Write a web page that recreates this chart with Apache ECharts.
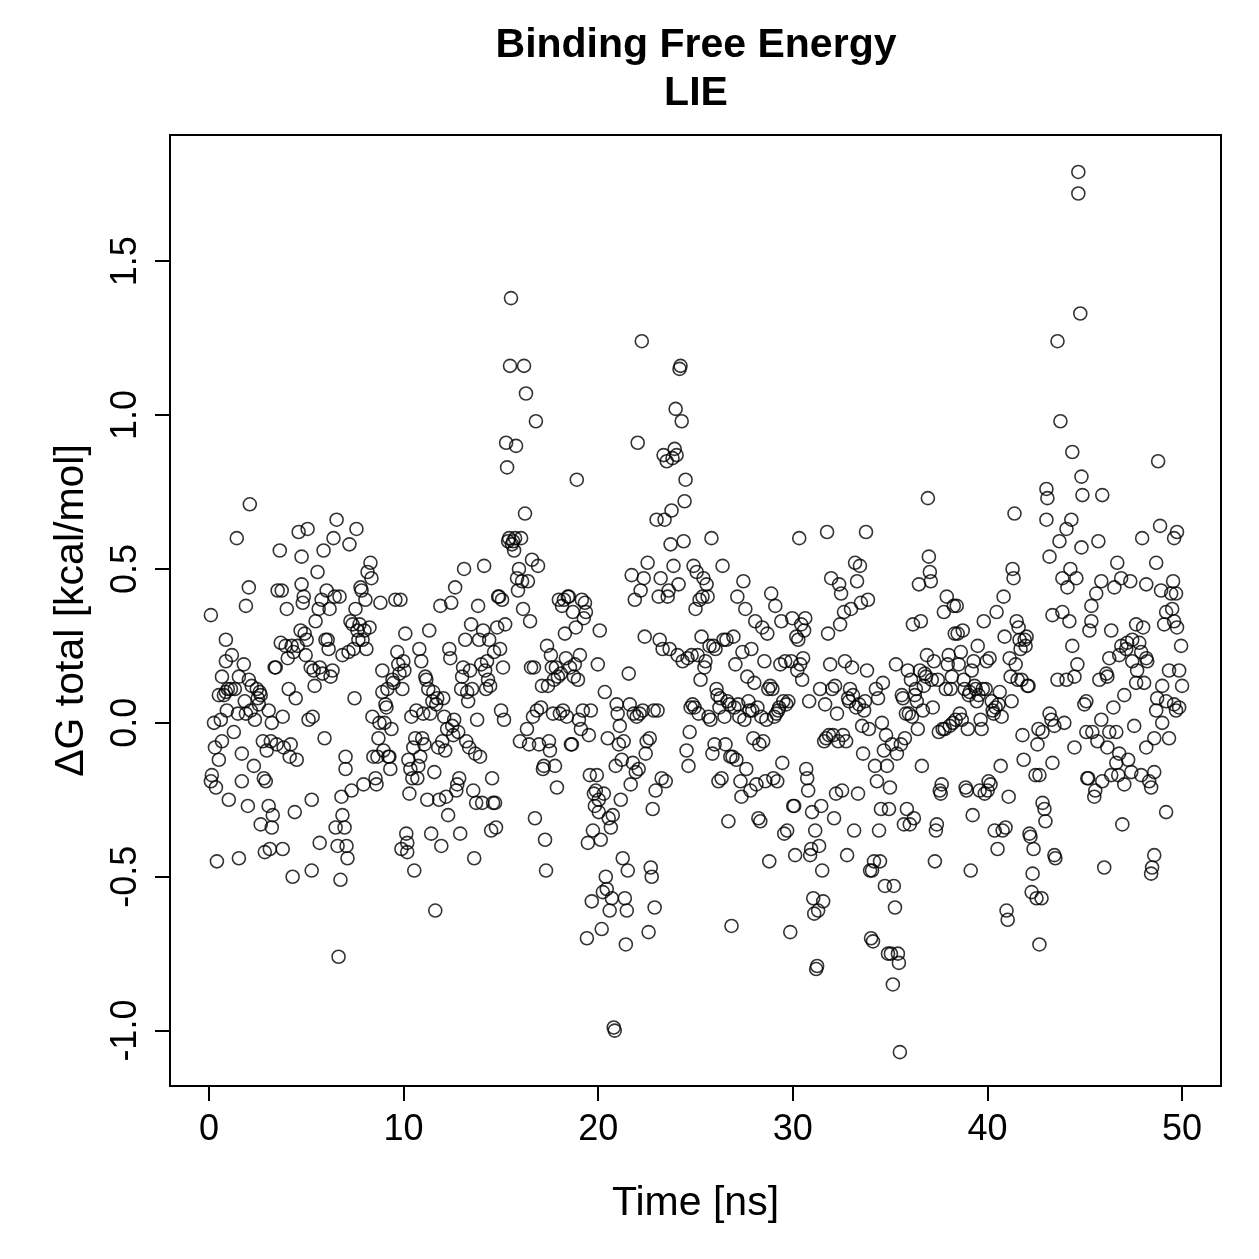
<!DOCTYPE html>
<html>
<head>
<meta charset="utf-8">
<title>Binding Free Energy - LIE</title>
<script src="https://cdn.jsdelivr.net/npm/echarts@6/dist/echarts.min.js"></script>
<style>
    html, body { margin: 0; padding: 0; background: #fff; }
    #main { width: 1259px; height: 1259px; }
</style>
</head>
<body>
<div id="main"></div>
<script>
// tick labels
const xTicks = [0, 10, 20, 30, 40, 50];
const yTicks = [-1.0, -0.5, 0.0, 0.5, 1.0, 1.5];

// [time (ns), dG total (kcal/mol)], in blocks of ~10 ns
const lie0to10 = [
    [0.10,0.35],[0.15,-0.17],[0.10,-0.19],[0.26,0.00],[0.31,-0.08],[0.36,-0.21],[0.41,-0.45],[0.51,0.09],[0.51,-0.12],[0.61,0.01],
    [0.67,-0.06],[0.67,0.15],[0.77,0.09],[0.87,0.27],[0.87,0.20],[0.87,0.10],[0.92,0.04],[0.97,0.11],[1.02,-0.25],[1.13,0.11],
    [1.18,0.22],[1.28,-0.03],[1.33,0.11],[1.43,0.60],[1.49,0.03],[1.54,-0.44],[1.54,0.15],[1.69,-0.19],[1.69,-0.10],[1.79,0.19],
    [1.84,0.07],[1.90,0.38],[1.90,0.03],[2.00,-0.27],[2.05,0.44],[2.10,0.71],[2.05,0.14],[2.15,0.04],[2.20,0.12],[2.31,-0.14],
    [2.36,0.01],[2.46,0.11],[2.51,0.08],[2.56,0.06],[2.61,0.10],[2.66,0.09],[2.66,-0.33],[2.77,-0.06],[2.82,-0.18],[2.87,-0.42],
    [2.92,-0.19],[2.97,-0.09],[3.07,0.04],[3.07,-0.27],[3.13,-0.41],[3.18,-0.06],[3.23,0.00],[3.23,-0.34],[3.28,-0.30],[3.38,0.18],
    [3.43,0.18],[3.48,-0.07],[3.53,0.43],[3.64,0.56],[3.69,0.26],[3.74,0.43],[3.79,0.02],[3.79,-0.41],[3.84,-0.08],[3.94,0.25],
    [4.00,0.37],[4.05,0.21],[4.10,0.11],[4.15,-0.11],[4.20,-0.07],[4.25,0.25],[4.30,-0.50],[4.35,0.23],[4.41,-0.29],[4.46,0.08],
    [4.51,-0.12],[4.56,0.25],[4.61,0.62],[4.71,0.30],[4.76,0.54],[4.76,0.45],[4.82,0.39],[4.87,0.41],[4.92,0.29],[4.97,0.22],
    [5.02,0.27],[5.07,0.63],[5.12,0.01],[5.23,0.18],[5.28,-0.25],[5.28,-0.48],[5.33,0.02],[5.38,0.17],[5.43,0.12],[5.48,0.33],
    [5.58,0.49],[5.64,0.37],[5.69,0.18],[5.69,-0.39],[5.79,0.40],[5.84,0.16],[5.89,0.56],[5.94,-0.05],[5.99,0.27],[6.05,0.43],
    [6.10,0.27],[6.15,0.24],[6.20,0.37],[6.25,0.15],[6.35,0.17],[6.40,0.60],[6.46,0.41],[6.51,-0.34],[6.56,0.66],[6.61,-0.40],
    [6.66,-0.76],[6.71,0.41],[6.76,-0.51],[6.81,-0.24],[6.86,0.22],[6.86,-0.30],[6.97,-0.34],[7.02,-0.11],[7.02,-0.15],[7.07,-0.40],
    [7.12,-0.44],[7.17,0.23],[7.22,0.58],[7.27,0.33],[7.33,-0.22],[7.38,0.32],[7.43,0.24],[7.48,0.08],[7.53,0.37],[7.58,0.63],
    [7.63,0.30],[7.68,0.27],[7.74,0.32],[7.79,0.44],[7.84,0.43],[7.89,0.27],[7.94,-0.20],[7.99,0.30],[8.04,0.40],[8.09,0.24],
    [8.15,0.49],[8.25,0.31],[8.30,0.52],[8.35,0.47],[8.40,0.02],[8.45,-0.11],[8.56,-0.18],[8.61,-0.20],[8.66,-0.11],[8.71,-0.05],
    [8.76,0.00],[8.81,0.39],[8.91,0.10],[8.91,0.17],[8.97,-0.09],[9.02,0.00],[9.07,0.06],[9.12,0.05],[9.17,0.11],[9.22,-0.11],
    [9.27,-0.11],[9.32,-0.15],[9.38,-0.02],[9.43,0.14],[9.48,0.13],[9.58,0.40],[9.68,0.23],[9.73,0.19],[9.79,0.16],[9.84,0.40],
    [9.89,-0.41],[9.94,0.11],[9.99,0.20]
];
const lie10to20 = [
    [10.04,0.17],[10.09,0.29],[10.14,-0.36],[10.19,-0.39],[10.19,-0.42],[10.25,-0.12],[10.30,-0.23],[10.35,-0.15],[10.40,0.02],[10.45,-0.18],
    [10.50,-0.08],[10.55,-0.48],[10.60,-0.05],[10.66,0.04],[10.71,-0.18],[10.76,-0.14],[10.81,0.24],
    [10.86,-0.11],[10.91,0.20],[10.96,-0.05],[11.01,0.03],[11.07,-0.07],[11.12,0.15],[11.17,0.14],[11.22,-0.25],[11.27,0.11],[11.32,0.30],
    [11.37,0.03],[11.42,-0.36],[11.48,0.07],[11.53,0.10],[11.58,-0.16],[11.63,-0.61],[11.68,0.06],[11.73,0.08],[11.78,-0.08],[11.83,-0.25],
    [11.89,0.38],[11.94,-0.40],[11.99,-0.06],[12.04,0.08],[12.09,0.02],[12.14,-0.09],[12.19,-0.24],[12.24,-0.02],[12.29,-0.30],[12.35,0.24],
    [12.40,0.21],[12.45,0.39],[12.50,-0.01],[12.55,-0.04],[12.60,0.01],[12.65,0.44],[12.71,-0.22],[12.76,-0.20],[12.81,-0.03],[12.86,-0.18],
    [12.91,-0.36],[12.96,0.11],[13.01,0.15],[13.06,0.18],[13.11,0.50],[13.17,0.27],[13.22,-0.06],[13.27,0.10],[13.32,0.07],[13.37,-0.08],
    [13.42,0.17],[13.47,0.32],[13.52,0.11],[13.58,-0.22],[13.63,-0.44],[13.68,-0.10],[13.73,-0.26],[13.78,0.01],[13.83,0.38],[13.88,0.27],
    [13.93,-0.11],[13.99,0.19],[14.04,-0.26],[14.09,0.30],[14.14,0.51],[14.19,0.17],[14.24,0.11],[14.29,0.20],[14.34,0.14],[14.40,0.27],
    [14.45,0.12],[14.50,-0.35],[14.55,-0.18],[14.60,-0.26],[14.65,0.23],[14.70,-0.26],[14.75,-0.34],[14.81,0.31],[14.86,0.41],[14.91,0.41],
    [14.96,0.24],[15.01,0.04],[15.06,0.40],[15.11,0.18],[15.16,0.01],[15.22,0.32],[15.27,0.91],[15.32,0.83],[15.37,0.59],[15.42,0.60],
    [15.47,1.16],[15.52,1.38],[15.57,0.58],[15.63,0.59],[15.68,0.56],[15.73,0.60],[15.78,0.90],[15.83,0.47],[15.88,0.43],[15.93,0.50],
    [15.98,-0.06],[16.04,0.60],[16.09,0.46],[16.14,0.37],[16.19,1.16],[16.24,0.68],[16.29,1.07],[16.34,-0.02],[16.39,0.46],[16.45,-0.07],
    [16.50,0.33],[16.55,0.18],[16.60,0.53],[16.65,0.02],[16.70,0.18],[16.75,-0.31],[16.80,0.98],[16.85,0.04],[16.91,0.51],[16.96,-0.07],
    [17.06,0.05],[17.11,0.12],[17.16,-0.15],[17.21,-0.14],[17.27,-0.38],[17.32,-0.48],[17.37,0.25],[17.42,0.12],[17.47,-0.06],[17.52,-0.09],
    [17.57,0.22],[17.62,0.18],[17.68,0.03],[17.73,0.14],[17.78,-0.14],[17.83,0.18],[17.88,-0.21],[17.93,0.15],[17.98,0.40],[18.03,0.03],
    [18.08,0.16],[18.14,0.38],[18.19,0.04],[18.24,0.40],[18.29,0.29],[18.34,0.21],[18.39,0.02],[18.44,0.41],[18.49,0.41],[18.55,0.18],
    [18.60,-0.07],[18.65,-0.07],[18.70,0.36],[18.75,0.15],[18.80,0.19],[18.85,0.31],[18.90,0.79],[18.96,0.14],[19.01,0.01],[19.06,0.22],
    [19.11,-0.02],[19.16,0.40],[19.21,0.04],[19.26,0.34],[19.32,0.39],[19.37,0.36],[19.42,-0.70],[19.47,-0.39],[19.52,-0.04],[19.57,-0.17],
    [19.62,0.04],[19.67,-0.58],[19.73,-0.35],[19.78,-0.23],[19.83,-0.27],[19.88,-0.22],[19.93,-0.17],[19.98,0.19]
];
const lie20to30 = [
    [20.03,-0.29],[20.03,-0.25],
    [20.08,0.30],[20.13,-0.38],[20.18,-0.67],[20.24,-0.55],[20.29,-0.23],[20.34,0.10],[20.39,-0.50],[20.44,-0.54],[20.49,-0.05],[20.54,-0.31],
    [20.59,-0.61],[20.65,-0.34],[20.70,-0.57],[20.75,-0.30],[20.80,-0.99],[20.85,-1.00],[20.90,-0.14],[20.95,0.06],[21.00,0.03],[21.06,-0.07],
    [21.11,-0.01],[21.16,-0.25],[21.21,-0.12],[21.26,-0.44],[21.31,-0.06],[21.37,-0.57],[21.42,-0.72],[21.47,-0.61],[21.52,-0.48],[21.57,0.16],
    [21.62,0.06],[21.67,-0.20],[21.72,0.48],[21.78,-0.13],[21.83,0.03],[21.88,0.40],[21.93,-0.16],[21.98,0.02],[22.03,0.91],[22.08,-0.15],
    [22.13,0.03],[22.18,0.43],[22.24,1.24],[22.29,0.04],[22.34,0.47],[22.39,0.28],[22.44,-0.10],[22.49,-0.06],[22.54,0.52],[22.59,-0.68],
    [22.65,-0.05],[22.70,-0.47],[22.75,-0.50],[22.80,-0.28],[22.85,0.04],[22.90,-0.60],[22.95,-0.22],[23.00,0.66],[23.05,0.04],[23.11,0.41],
    [23.16,0.27],[23.21,0.47],[23.26,-0.18],[23.31,0.24],[23.36,0.87],[23.41,0.66],[23.47,-0.19],[23.52,0.85],[23.57,0.41],[23.62,0.43],
    [23.67,0.24],[23.72,0.58],[23.77,0.69],[23.82,0.86],[23.87,0.51],[23.93,0.89],[23.98,1.02],[24.03,0.87],[24.08,0.22],[24.13,0.45],
    [24.18,1.15],[24.23,1.16],[24.29,0.98],[24.34,0.20],[24.39,0.59],[24.44,0.72],[24.49,0.79],[24.54,-0.09],[24.59,0.21],[24.64,-0.14],
    [24.70,-0.03],[24.75,0.05],[24.80,0.22],[24.85,0.06],[24.90,0.51],[24.95,0.05],[25.00,0.37],[25.06,0.49],[25.11,0.22],[25.16,0.03],
    [25.21,0.40],[25.26,0.14],[25.31,0.28],[25.36,0.41],[25.41,0.47],[25.46,0.18],[25.51,0.20],[25.57,0.45],[25.62,0.41],[25.67,0.02],
    [25.72,0.25],[25.77,0.01],[25.82,0.60],[25.87,-0.10],[25.92,0.25],[25.98,-0.07],[26.03,0.24],[26.08,0.11],[26.13,0.09],[26.18,-0.19],
    [26.23,0.05],[26.28,0.08],[26.34,-0.18],[26.39,0.51],[26.44,0.27],[26.49,0.02],[26.54,-0.07],[26.59,0.27],[26.64,0.07],[26.69,-0.32],
    [26.74,0.06],[26.79,-0.11],[26.85,-0.66],[26.90,-0.11],[26.95,0.28],[27.00,0.05],[27.05,0.19],[27.10,-0.12],[27.15,0.41],[27.20,0.06],
    [27.25,0.02],[27.31,-0.19],[27.36,-0.24],[27.41,0.23],[27.46,0.46],[27.51,0.01],[27.56,0.37],[27.61,-0.15],[27.66,0.15],[27.72,0.07],
    [27.77,0.04],[27.82,-0.22],[27.87,0.24],[27.92,0.04],[27.97,-0.05],[28.02,0.13],[28.07,0.33],[28.13,-0.20],[28.18,0.05],[28.23,-0.31],
    [28.28,-0.07],[28.33,-0.32],[28.38,0.02],[28.43,0.31],[28.48,-0.06],[28.54,0.20],[28.59,-0.19],[28.64,0.01],[28.69,0.29],[28.74,0.11],
    [28.79,-0.45],[28.84,0.12],[28.89,0.42],[28.95,0.11],[29.00,-0.18],[29.05,0.02],[29.10,0.38],[29.15,0.03],[29.20,-0.19],[29.25,0.04],
    [29.30,0.05],[29.36,0.19],[29.41,0.33],[29.46,-0.13],[29.51,0.07],[29.56,-0.36],[29.61,0.20],[29.66,0.06],[29.71,-0.35],[29.77,0.07],
    [29.87,-0.68],[29.92,0.20],[29.97,0.34]
];
const lie30to40 = [
    [30.02,-0.27],[30.07,-0.27],[30.12,-0.43],[30.18,0.28],[30.23,0.17],[30.28,0.27],[30.33,0.60],
    [30.38,0.19],[30.43,0.32],[30.48,0.14],[30.53,0.21],[30.58,0.30],[30.64,0.34],[30.69,-0.15],[30.74,-0.18],[30.79,-0.22],[30.84,0.07],
    [30.89,-0.43],[30.94,-0.41],[30.99,-0.29],[31.05,-0.57],[31.10,-0.62],[31.15,-0.35],[31.20,-0.80],[31.25,-0.79],[31.30,-0.61],[31.35,-0.40],
    [31.40,0.11],[31.46,-0.27],[31.51,-0.48],[31.56,-0.58],[31.61,-0.06],[31.66,0.06],[31.71,-0.05],[31.76,0.62],[31.81,0.29],[31.86,-0.04],
    [31.92,0.19],[31.97,0.47],[32.02,0.11],[32.07,-0.04],[32.12,-0.31],[32.17,0.12],[32.22,-0.23],[32.27,0.03],[32.33,-0.06],[32.38,0.45],
    [32.43,0.32],[32.48,0.42],[32.53,-0.22],[32.58,-0.04],[32.63,0.36],[32.68,0.20],[32.74,-0.06],[32.79,-0.43],[32.84,0.08],[32.89,0.07],
    [32.94,0.11],[32.99,0.37],[33.04,0.18],[33.09,0.09],[33.15,-0.35],[33.20,0.52],[33.25,0.05],[33.30,0.46],[33.35,-0.23],[33.40,0.06],
    [33.45,0.51],[33.50,0.39],[33.56,-0.01],[33.61,-0.10],[33.66,0.04],[33.71,0.07],[33.76,0.62],[33.81,0.17],[33.86,0.40],[33.91,-0.02],
    [33.97,-0.48],[34.02,-0.70],[34.07,-0.48],[34.12,-0.71],[34.17,-0.45],[34.22,-0.14],[34.27,0.11],[34.32,-0.19],[34.38,0.08],[34.43,-0.35],
    [34.48,-0.45],[34.53,-0.28],[34.58,0.00],[34.63,0.13],[34.68,-0.09],[34.73,-0.53],[34.79,-0.04],[34.84,-0.14],[34.89,-0.75],[34.94,-0.28],
    [34.99,-0.21],[35.04,-0.75],[35.09,-0.07],[35.14,-0.85],[35.19,-0.53],[35.25,-0.60],[35.30,0.19],[35.35,-0.10],[35.40,-0.75],[35.45,-0.78],
    [35.50,-1.07],[35.55,-0.07],[35.60,0.09],[35.66,0.08],[35.71,-0.33],[35.76,-0.05],[35.81,0.03],[35.86,-0.28],[35.91,0.17],[35.96,0.03],
    [36.01,-0.33],[36.07,0.14],[36.12,0.02],[36.17,0.32],[36.22,-0.31],[36.27,0.09],[36.32,0.11],[36.37,0.07],[36.42,-0.02],[36.48,0.45],
    [36.53,0.17],[36.58,0.33],[36.63,-0.14],[36.68,0.04],[36.73,0.12],[36.78,0.16],[36.84,0.15],[36.89,0.22],[36.94,0.73],[36.99,0.54],
    [37.04,0.49],[37.09,0.46],[37.14,0.14],[37.19,0.05],[37.25,0.20],[37.30,-0.45],[37.35,-0.35],[37.40,-0.33],[37.45,0.14],[37.50,-0.03],
    [37.55,-0.22],[37.60,-0.23],[37.65,-0.20],[37.70,-0.02],[37.76,0.36],[37.81,-0.02],[37.86,0.11],[37.91,0.41],[37.96,0.19],[38.01,0.22],
    [38.06,-0.01],[38.11,0.11],[38.17,0.15],[38.22,0.00],[38.27,0.38],[38.32,0.29],[38.37,0.01],[38.42,0.38],[38.47,0.29],[38.52,0.19],
    [38.58,0.03],[38.63,0.23],[38.68,0.01],[38.73,0.30],[38.78,0.14],[38.83,0.11],[38.88,-0.21],[38.93,-0.22],[38.99,-0.02],[39.04,0.09],
    [39.09,0.10],[39.14,-0.48],[39.19,0.17],[39.24,-0.30],[39.29,0.20],[39.34,0.12],[39.40,0.11],[39.45,0.07],[39.50,0.25],[39.55,0.09],
    [39.60,-0.22],[39.65,0.01],[39.70,-0.02],[39.76,0.11],[39.81,0.33],[39.86,-0.23],[39.91,0.11],[39.96,0.20]
];
const lie40to50 = [
    [40.01,-0.22],[40.06,-0.19],[40.11,0.21],[40.16,-0.20],[40.22,0.07],[40.27,0.04],[40.32,0.03],[40.37,-0.35],[40.42,0.05],[40.47,0.36],
    [40.52,-0.41],[40.57,0.06],
    [40.63,0.10],[40.68,-0.14],[40.73,0.02],[40.78,-0.35],[40.83,0.41],[40.88,0.28],[40.93,-0.34],[40.98,-0.61],[41.04,-0.64],[41.09,-0.24],
    [41.14,0.21],[41.19,0.15],[41.24,0.07],[41.29,0.50],[41.34,0.47],[41.39,0.68],[41.45,0.19],[41.50,0.33],[41.55,0.14],[41.60,0.31],
    [41.65,0.27],[41.70,0.24],[41.75,0.14],[41.80,-0.04],[41.86,-0.12],[41.91,0.27],[41.96,0.25],[42.01,0.28],[42.06,0.12],[42.11,0.12],
    [42.16,-0.36],[42.21,-0.37],[42.27,-0.55],[42.32,-0.49],[42.37,-0.41],[42.67,-0.72],[42.47,-0.17],[42.52,-0.57],[42.57,-0.07],[42.62,-0.02],
    [44.67,1.79],[44.67,1.72],[44.77,1.33],[43.60,1.24],[43.75,0.98],[44.36,0.88],[48.77,0.85],[44.83,0.80],[43.03,0.76],[43.08,0.73],
    [44.88,0.74],[45.90,0.74],[43.03,0.66],[44.31,0.66],[44.06,0.63],[48.87,0.64],[49.74,0.62],[49.59,0.60],[47.95,0.60],[43.70,0.59],
    [44.83,0.57],[45.70,0.59],[43.19,0.54],[46.67,0.52],[48.67,0.52],[44.26,0.50],[43.85,0.47],[44.57,0.47],[44.11,0.44],[45.85,0.46],
    [46.52,0.44],[46.87,0.47],[47.34,0.46],[48.16,0.45],[49.54,0.46],[48.92,0.43],[49.44,0.42],[49.69,0.42],[45.59,0.42],
    [45.34,0.38],[43.34,0.35],[43.85,0.36],[44.21,0.33],[45.34,0.33],[45.24,0.30],[46.36,0.30],[47.64,0.32],[48.00,0.31],[49.18,0.36],
    [49.49,0.37],[49.08,0.32],[49.59,0.33],[49.74,0.31],[44.36,0.25],[49.95,0.25],[46.88,0.25],[47.18,0.26],[47.44,0.27],[47.80,0.26],
    [46.26,0.21],[46.77,0.22],[47.13,0.24],[47.44,0.20],[47.90,0.23],[48.16,0.21],[48.21,0.20],[44.62,0.19],[43.60,0.14],[44.06,0.14],
    [44.47,0.15],[45.75,0.14],[46.11,0.16],[46.16,0.15],[47.69,0.17],[47.64,0.13],[48.05,0.13],[49.33,0.17],[49.85,0.17],[48.98,0.12],
    [50.00,0.12],[47.03,0.09],[45.08,0.07],[44.98,0.06],[48.72,0.08],[49.18,0.07],[49.59,0.06],[48.67,0.04],[49.85,0.05],[46.47,0.05],
    [49.69,0.04],[43.19,0.03],[43.29,0.01],[43.95,0.00],[43.44,-0.01],[42.83,-0.03],[45.85,0.01],[47.54,-0.01],[48.98,0.00],[45.08,-0.03],
    [45.39,-0.03],[46.26,-0.03],[46.62,-0.03],[45.65,-0.06],[46.16,-0.08],[44.47,-0.08],[48.57,-0.05],[49.33,-0.05],[48.16,-0.08],[46.77,-0.10],
    [46.62,-0.13],[47.23,-0.12],[43.34,-0.13],[45.13,-0.18],[45.18,-0.18],[45.90,-0.19],[46.36,-0.17],[46.72,-0.17],[47.39,-0.16],[47.90,-0.17],
    [48.57,-0.16],[47.03,-0.20],[48.31,-0.19],[48.41,-0.21],[45.54,-0.22],[45.49,-0.24],[42.83,-0.26],[42.93,-0.28],[42.98,-0.32],[49.18,-0.29],
    [46.93,-0.33],[43.44,-0.43],[43.49,-0.44],[48.57,-0.43],[46.00,-0.47],[48.46,-0.47],[48.41,-0.49],[42.78,-0.57],[42.67,-0.17]
];

const fontFamily = '"Liberation Sans", Arial, Helvetica, sans-serif';
const allPoints = [].concat(lie0to10, lie10to20, lie20to30, lie30to40, lie40to50);

const chart = echarts.init(document.getElementById('main'));

// axis settings shared by x and y
const axisBase = {
    type: 'value',
    nameLocation: 'middle',
    nameTextStyle: { color: '#000', fontSize: 41, fontFamily: fontFamily },
    // onZero: false keeps the ticks on the box edge, not on the 0 line
    axisLine: { show: false, onZero: false },
    splitLine: { show: false },
    axisTick: { show: true, inside: false, length: 15, lineStyle: { color: '#000', width: 2 } },
    axisLabel: { color: '#000', fontSize: 36, fontFamily: fontFamily, margin: 26 }
};

const option = {
    animation: false,
    backgroundColor: '#fff',
    title: {
        text: 'Binding Free Energy\nLIE',
        left: 696,
        top: 22,
        padding: 0,
        textAlign: 'center',
        textStyle: { color: '#000', fontSize: 41, fontWeight: 'bold', lineHeight: 48, fontFamily: fontFamily }
    },
    grid: {
        left: 170, top: 135, width: 1051, height: 951,
        show: true, borderColor: '#000', borderWidth: 2, backgroundColor: 'transparent'
    },
    xAxis: Object.assign({}, axisBase, {
        name: 'Time [ns]',
        nameGap: 97,
        min: -2,
        max: 52,
        axisTick: Object.assign({}, axisBase.axisTick, { customValues: xTicks }),
        axisLabel: Object.assign({}, axisBase.axisLabel, { customValues: xTicks })
    }),
    yAxis: Object.assign({}, axisBase, {
        name: 'ΔG total [kcal/mol]',
        nameGap: 78,
        min: -1.18,
        max: 1.91,
        axisTick: Object.assign({}, axisBase.axisTick, { customValues: yTicks }),
        axisLabel: Object.assign({}, axisBase.axisLabel, {
            customValues: yTicks,
            rotate: 90,
            formatter: v => v.toFixed(1)
        })
    }),
    series: [{
        type: 'scatter',
        data: allPoints,
        symbol: 'circle',
        symbolSize: 13,
        silent: true,
        itemStyle: { color: 'rgba(0,0,0,0)', borderColor: '#000', borderWidth: 1.6 }
    }]
};

chart.setOption(option);
</script>
</body>
</html>
